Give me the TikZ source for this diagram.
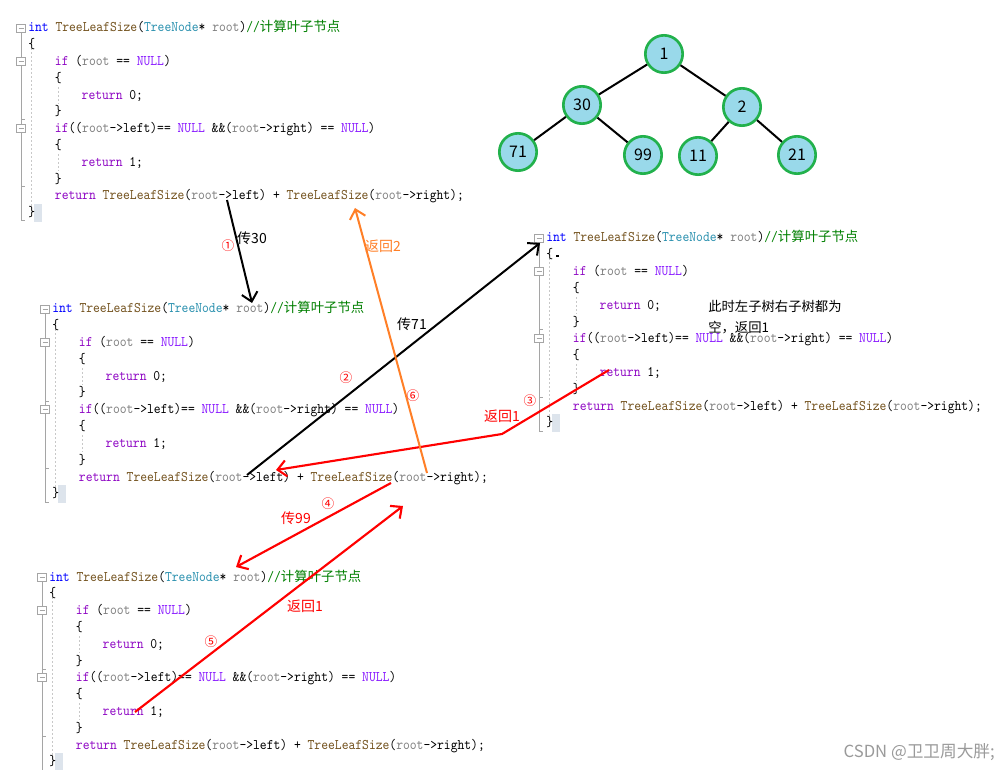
\documentclass[tikz,border=0pt]{standalone}
\usepackage{fontspec}
\newfontfamily\cjk{Noto Sans CJK SC}
\newfontfamily\codefont{lmmono10-regular.otf}[FakeStretch=0.885]
\usetikzlibrary{arrows.meta}

\definecolor{kwblue}{HTML}{0000FF}
\definecolor{fnbrown}{HTML}{74531F}
\definecolor{tyteal}{HTML}{2B91AF}
\definecolor{argray}{HTML}{808080}
\definecolor{cmgreen}{HTML}{008000}
\definecolor{ctpurple}{HTML}{8F08C4}
\definecolor{mcviolet}{HTML}{8A1BFF}
\definecolor{foldgray}{HTML}{A5A5A5}
\definecolor{guidegray}{HTML}{C8C8C8}
\definecolor{cursorblue}{HTML}{DDE4EC}
\definecolor{treegreen}{HTML}{22B14C}
\definecolor{treeblue}{HTML}{99D9EA}
\definecolor{markred}{HTML}{FF0000}
\definecolor{backorange}{HTML}{FF7F27}
\definecolor{wmgray}{HTML}{9A9A9A}

\newcommand\ckw[1]{\textcolor{kwblue}{#1}}
\newcommand\cfn[1]{\textcolor{fnbrown}{#1}}
\newcommand\cty[1]{\textcolor{tyteal}{#1}}
\newcommand\carg[1]{\textcolor{argray}{#1}}
\newcommand\cctl[1]{\textcolor{ctpurple}{#1}}
\newcommand\cmac[1]{\textcolor{mcviolet}{#1}}
\newcommand\cmt{\textcolor{cmgreen}{//{\cjk\fontsize{10.05}{12}\selectfont 计算叶子节点}}}

\begin{document}
\begin{tikzpicture}[x=0.75pt,y=0.75pt,yscale=-1,xscale=1,
  code/.style={anchor=base west,inner sep=0pt,font=\codefont\fontsize{11}{12}\selectfont},
  foldline/.style={draw=foldgray,line width=0.75pt},
  foldbox/.style={draw=foldgray,fill=white,line width=0.6pt},
  guide/.style={draw=guidegray,line width=0.6pt,dash pattern=on 1.5pt off 1.5pt},
  leaf/.style={circle,draw=treegreen,fill=treeblue,line width=2pt,minimum size=28pt,inner sep=0pt,font=\cjk\fontsize{12}{14}\selectfont},
  branch/.style={line width=1.5pt},
  note/.style={inner sep=0pt,font=\cjk\fontsize{10.5}{12}\selectfont},
  ordmark/.style={inner sep=0pt,text=markred,font=\cjk\fontsize{9.5}{11}\selectfont},
  pass/.style={line width=1.5pt,-{Straight Barb[length=6.5pt,width=12pt]}},
  back/.style={line width=1.6pt,-{Straight Barb[length=6.5pt,width=12pt]}}]

\useasboundingbox[fill=white] (0,0) rectangle (1008,770);

% Code blocks
\foreach \bn/\bx/\by in {a/28/28,b/52/309,c/546/238,d/49/577}{
\begin{scope}[shift={(\bx,\by)}]
%Fold margin
\draw[foldline] (-7,4) -- (-7,193) -- (-3,193) ;
\draw[foldline] (-7,92) -- (-3,92) ;
\draw[foldline] (-7,159) -- (-3,159) ;
\foreach \r in {0,2,6}{
  \draw[foldbox] (-11.5,\r*16.8-4) rectangle (-2.5,\r*16.8+4) ;
  \draw[draw=foldgray,line width=0.6pt] (-9.5,\r*16.8) -- (-4.5,\r*16.8) ;
}
%Indent guides
\draw[guide] (3,12) -- (3,186) ;
\draw[guide] (30,59) -- (30,76) ;
\draw[guide] (30,126) -- (30,143) ;
%Cursor
\fill[cursorblue] (6,176) rectangle (14,194) ;
% Text Node
\node[code] (\bn0) at (0,4) {\ckw{int} \cfn{TreeLeafSize}(\cty{TreeNode}* \carg{root})\cmt};
\node[code] (\bn1) at (0,20.8) {\{};
\node[code] (\bn2) at (26.72,37.6) {\cctl{if} (\carg{root} == \cmac{NULL})};
\node[code] (\bn3) at (26.72,54.4) {\{};
\node[code] (\bn4) at (53.44,71.2) {\cctl{return} 0;};
\node[code] (\bn5) at (26.72,88) {\}};
\node[code] (\bn6) at (26.72,104.8) {\cctl{if}((\carg{root}->left)== \cmac{NULL} \&\&(\carg{root}->right) == \cmac{NULL})};
\node[code] (\bn7) at (26.72,121.6) {\{};
\node[code] (\bn8) at (53.44,138.4) {\cctl{return} 1;};
\node[code] (\bn9) at (26.72,155.2) {\}};
\node[code] (\bn10) at (26.72,172) {\cctl{return} \cfn{TreeLeafSize}(\carg{root}->left) + \cfn{TreeLeafSize}(\carg{root}->right);};
\node[code] (\bn11) at (0,188.8) {\}};
\end{scope}
}
\fill (555.5,255) rectangle (559,257.5) ;

% Tree
\node[leaf] (n1) at (664,54) {1};
\node[leaf] (n30) at (582,105) {30};
\node[leaf] (n2) at (742,107) {2};
\node[leaf] (n71) at (518,152) {71};
\node[leaf] (n99) at (643,155) {99};
\node[leaf] (n11) at (698,156) {11};
\node[leaf] (n21) at (797,155) {21};
\draw[branch] (n1) -- (n30) (n1) -- (n2) (n30) -- (n71) (n30) -- (n99) (n2) -- (n11) (n2) -- (n21) ;

% Call / return arrows
\coordinate (c30s) at (227,200);
\coordinate (c30e) at (252,303);
\coordinate (c71s) at (247,475);
\coordinate (c71e) at (540,243);
\coordinate (r71s) at (609,370);
\coordinate (r71m) at (502,434);
\coordinate (r71e) at (276,470);
\coordinate (c99s) at (391,483);
\coordinate (c99e) at (236,567);
\coordinate (r99s) at (135,712);
\coordinate (r99e) at (403,506);
\coordinate (r30s) at (427,473);
\coordinate (r30e) at (355,208);
\draw[pass] (c30s) -- (c30e) ;
\draw[pass] (c71s) -- (c71e) ;
\draw[back,draw=markred] (r71s) -- (r71m) -- (r71e) ;
\draw[back,draw=markred] (c99s) -- (c99e) ;
\draw[back,draw=markred] (r99s) -- (r99e) ;
\draw[pass,draw=backorange] (r30s) -- (r30e) ;

% Text Node
\node[note] (l30) at (252,238) {传30};
\node[ordmark] (o1) at (228,246) {①};
\node[note,text=backorange] (lr2) at (383,246) {返回2};
\node[note] (l71) at (412,324) {传71};
\node[ordmark] (o2) at (346,378) {②};
\node[ordmark] (o6) at (413,396) {⑥};
\node[ordmark] (o3) at (530,401) {③};
\node[note,text=markred] (lr1a) at (502,416) {返回1};
\node[ordmark] (o4) at (328,504) {④};
\node[note,text=markred] (l99) at (296,518) {传99};
\node[note,text=markred] (lr1b) at (305,606) {返回1};
\node[ordmark] (o5) at (211,642) {⑤};
\node[note,anchor=west,font=\cjk\fontsize{10}{12}\selectfont] (why1) at (708,306) {此时左子树右子树都为};
\node[note,anchor=west,font=\cjk\fontsize{10}{12}\selectfont] (why2) at (708,328) {空，返回1};
\node[inner sep=0pt,anchor=east,text=wmgray,font=\cjk\fontsize{12.5}{14}\selectfont] (wm) at (995,752) {CSDN @卫卫周大胖;};

\end{tikzpicture}
\end{document}
